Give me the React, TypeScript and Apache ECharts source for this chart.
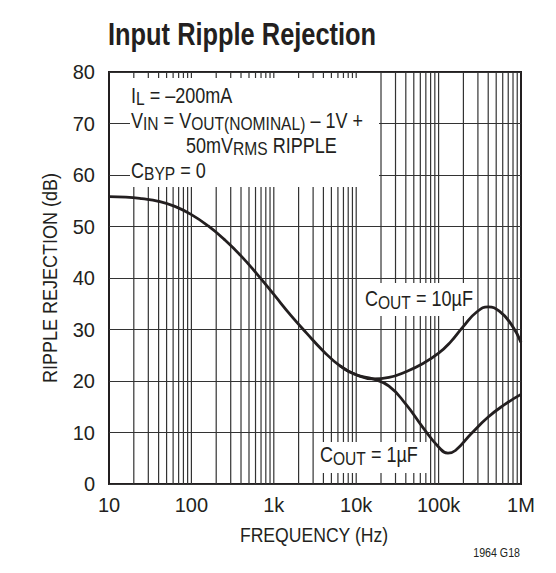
import React, { useEffect, useRef } from "react";
import * as echarts from "echarts";

const FONT = "'Liberation Sans', Arial, sans-serif";
const INK = "#231f20";
const GRID_INK = "#333333";

// Shared part of both curves (frequency Hz, rejection dB)
const commonPath: [number, number][] = [
  [10, 55.8], [16, 55.7], [25, 55.4], [40, 54.9], [63, 53.9], [100, 52.3],
  [160, 50.1], [250, 47.5], [400, 44.3], [630, 40.7], [1000, 36.8],
  [1600, 32.8], [2500, 29.3], [4000, 25.8], [6300, 23.0], [10000, 21.2],
  [16000, 20.4],
];
// COUT = 10µF branch
const cout10Tail: [number, number][] = [
  [25000, 20.7], [40000, 21.8], [63000, 23.3], [100000, 25.4], [140000, 27.6],
  [200000, 30.6], [290000, 33.4], [400000, 34.4], [550000, 33.5],
  [770000, 30.9], [1000000, 27.5],
];
// COUT = 1µF branch
const cout1Tail: [number, number][] = [
  [25000, 19.0], [40000, 15.5], [63000, 11.2], [100000, 7.2], [130000, 6.0],
  [160000, 6.5], [250000, 9.8], [400000, 13.0], [630000, 15.4], [1000000, 17.4],
];

const xTickLabels = ["10", "100", "1k", "10k", "100k", "1M"];
const decades = [10, 100, 1000, 10000, 100000];
const mantissas = [1, 2, 3, 4, 5, 6, 7, 8, 9];

export default function App() {
  const ref = useRef<HTMLDivElement>(null);

  useEffect(() => {
    if (!ref.current) return;
    const chart = echarts.init(ref.current, null, { renderer: "svg" });

    const gridFreqs = decades
      .flatMap((d) => mantissas.map((m) => m * d))
      .filter((f) => f > 10 && f < 1000000);

    const rich = {
      n: { fontSize: 22, lineHeight: 26, fontFamily: FONT, fill: INK, color: INK },
      s: { fontSize: 19, lineHeight: 16, fontFamily: FONT, fill: INK, color: INK, verticalAlign: "bottom" },
    };

    const richText = (x: number, y: number, text: string) => ({
      type: "text",
      x,
      y,
      z: 60,
      scaleX: 0.82,
      style: { text, rich, align: "left", verticalAlign: "middle", fill: INK },
    });

    const plainText = (
      x: number,
      y: number,
      text: string,
      fontSize: number,
      scaleX: number,
      align: string,
      extra: any = {}
    ) => ({
      type: "text",
      x,
      y,
      z: 60,
      scaleX,
      ...extra,
      style: {
        text,
        fontSize,
        fontFamily: FONT,
        fill: INK,
        align,
        verticalAlign: "middle",
        ...(extra.style || {}),
      },
    });

    const curveStyle = {
      type: "line",
      z: 55,
      smooth: 0.5,
      showSymbol: false,
      silent: true,
      lineStyle: { color: INK, width: 2.8 },
    };

    const option: any = {
      animation: false,
      backgroundColor: "#ffffff",
      grid: {
        left: 109,
        top: 72,
        width: 412,
        height: 412,
        show: true,
        borderColor: INK,
        borderWidth: 2,
        backgroundColor: "transparent",
      },
      xAxis: {
        type: "log",
        logBase: 10,
        min: 10,
        max: 1000000,
        axisLine: { show: false },
        axisTick: { show: false },
        splitLine: { show: false },
        minorTick: { show: false },
        axisLabel: {
          margin: 11,
          fontSize: 20,
          fontFamily: FONT,
          color: INK,
          showMinLabel: true,
          showMaxLabel: true,
          formatter: (v: number) => xTickLabels[Math.round(Math.log10(v)) - 1] ?? "",
        },
      },
      yAxis: {
        type: "value",
        min: 0,
        max: 80,
        interval: 10,
        axisLine: { show: false },
        axisTick: { show: false },
        axisLabel: { margin: 14, fontSize: 20, fontFamily: FONT, color: INK },
        splitLine: { show: true, lineStyle: { color: GRID_INK, width: 1.2 } },
      },
      series: [
        {
          type: "custom",
          z: 1,
          silent: true,
          data: gridFreqs.map((f) => [f, 0]),
          encode: { x: 0, y: 1 },
          renderItem: (params: any, api: any) => {
            const top = api.coord([api.value(0), 80]);
            const bot = api.coord([api.value(0), 0]);
            return {
              type: "line",
              shape: { x1: top[0], y1: top[1], x2: bot[0], y2: bot[1] },
              style: { stroke: GRID_INK, lineWidth: 1.2 },
            };
          },
        },
        { ...curveStyle, name: "COUT = 10µF", data: [...commonPath, ...cout10Tail] },
        { ...curveStyle, name: "COUT = 1µF", data: [...commonPath.slice(-3), ...cout1Tail] },
      ],
      graphic: [
        { type: "rect", z: 50, shape: { x: 130, y: 78, width: 249, height: 109 }, style: { fill: "#ffffff" } },
        { type: "rect", z: 50, shape: { x: 362, y: 283, width: 115, height: 33 }, style: { fill: "#ffffff" } },
        { type: "rect", z: 50, shape: { x: 317, y: 442, width: 110, height: 31 }, style: { fill: "#ffffff" } },
        richText(131, 95, "{n|I}{s|L}{n| = –200mA}"),
        richText(131, 120, "{n|V}{s|IN}{n| = V}{s|OUT(NOMINAL)}{n| – 1V +}"),
        richText(186, 145, "{n|50mV}{s|RMS}{n| RIPPLE}"),
        richText(131, 170, "{n|C}{s|BYP}{n| = 0}"),
        richText(365, 298.5, "{n|C}{s|OUT}{n| = 10µF}"),
        richText(320, 454.5, "{n|C}{s|OUT}{n| = 1µF}"),
        plainText(108, 34.5, "Input Ripple Rejection", 31, 0.82, "left", {
          style: { fontWeight: "bold" },
        }),
        plainText(50, 278, "RIPPLE REJECTION (dB)", 20, 0.9, "center", {
          rotation: Math.PI / 2,
        }),
        plainText(314, 535.5, "FREQUENCY (Hz)", 20, 0.88, "center"),
        plainText(520, 553, "1964 G18", 13, 0.82, "right"),
      ],
    };

    chart.setOption(option);
    return () => chart.dispose();
  }, []);

  return (
    <div
      ref={ref}
      style={{ position: "fixed", left: 0, top: 0, width: 556, height: 573, background: "#fff" }}
    />
  );
}
